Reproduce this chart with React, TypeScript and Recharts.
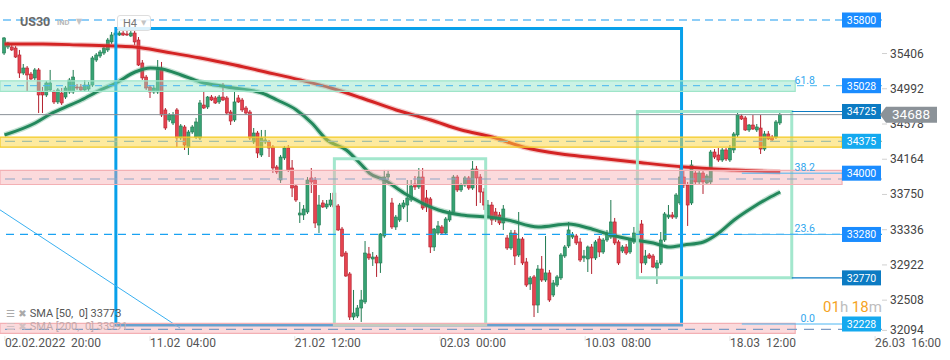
import React from 'react';
import { ComposedChart, Bar, Line, XAxis, YAxis, ReferenceLine, ReferenceArea } from 'recharts';

// ---------- DATA ----------
// H4 candles: [open, high, low, close]
const candles: number[][] = [
  [35412,35600,35389,35589],[35483,35542,35459,35530],[35483,35506,35436,35448],[35471,35494,35354,35365],
  [35389,35448,35119,35177],[35177,35283,35154,35236],[35236,35259,34954,35154],[35165,35189,35095,35107],
  [35119,35236,35095,35213],[35213,35236,34707,34919],[34954,35013,34707,34919],[34919,35083,34895,35060],
  [34978,35213,34954,35060],[34954,34978,34813,34837],[34837,35001,34813,34978],[34942,35001,34801,34825],
  [34895,35025,34872,35001],[34954,35119,34931,35095],[34954,35213,34931,35130],[35013,35048,34978,35001],
  [35013,35048,34954,34978],[34978,35095,34954,35036],[34989,35072,34966,35036],[35036,35377,35013,35354],
  [35330,35412,35307,35389],[35377,35448,35354,35424],[35412,35494,35389,35471],[35448,35589,35424,35565],
  [35542,35659,35518,35624],[35624,35671,35600,35647],[35624,35671,35612,35647],[35647,35683,35612,35624],
  [35636,35671,35612,35624],[35612,35671,35600,35647],[35647,35683,35506,35542],[35565,35600,35259,35271],
  [35295,35330,35095,35119],[35130,35154,34978,35001],[35013,35036,34884,34954],[34954,35036,34931,35001],
  [34954,35330,34931,35236],[35236,35307,34660,34684],[34743,34766,34508,34531],[34625,34707,34602,34684],
  [34590,34719,34566,34684],[34743,34766,34308,34414],[34414,34578,34390,34555],[34543,34566,34273,34331],
  [34308,34508,34214,34484],[34484,34566,34461,34543],[34425,34649,34402,34602],[34414,34860,34390,34825],
  [34801,34954,34754,34766],[34778,34907,34754,34895],[34895,34919,34848,34860],[34884,34907,34813,34825],
  [34837,34919,34813,34895],[34895,35060,34848,34860],[34884,34907,34684,34707],[34719,34743,34566,34613],
  [34625,34954,34602,34837],[34884,34919,34825,34837],[34860,34884,34719,34743],[34766,34790,34684,34707],
  [34719,34743,34390,34414],[34367,34531,34343,34472],[34472,34496,34179,34237],[34214,34508,34190,34414],
  [34367,34508,34343,34390],[34367,34390,34190,34296],[34308,34331,34002,34061],[34073,34096,33990,34014],
  [33920,34214,33885,34190],[34179,34320,34155,34296],[34296,34331,34014,34038],[34061,34155,33720,33826],
  [33850,33873,33662,33685],[33509,33662,33415,33532],[33509,33626,33450,33579],[33544,33955,33521,33920],
  [33944,34061,33767,33897],[33920,33955,33356,33415],[33391,33744,33297,33626],[33650,33685,33591,33603],
  [33603,33685,33579,33638],[33626,33767,33603,33685],[33767,33791,33591,33603],[33615,33638,33321,33333],
  [33344,33368,33015,33027],[33062,33086,32781,32792],[32816,32839,32275,32310],[32310,32628,32275,32357],
  [32322,32451,32299,32416],[32416,32628,32252,32510],[32487,33203,32463,33062],[33051,33133,32980,33004],
  [32992,33074,32910,33015],[33015,33039,32781,32945],[32945,33297,32828,33286],[33262,34038,33239,33955],
  [33955,34038,33920,33990],[33650,33709,33344,33368],[33368,33509,33333,33485],[33450,33650,33427,33626],
  [33603,33685,33579,33650],[33626,33920,33427,33709],[33685,33920,33662,33850],[33873,33967,33803,33838],
  [33838,34061,33814,33955],[33955,34061,33568,33591],[33709,33803,33544,33603],[33697,33720,33062,33133],
  [33133,33356,33086,33344],[33297,33438,33274,33380],[33368,33391,33274,33297],[33297,33485,33274,33462],
  [33450,33568,33427,33544],[33544,33979,33521,33955],[33955,33979,33779,33803],[33803,33885,33779,33861],
  [33861,33967,33838,33944],[33944,33967,33803,33826],[33826,34143,33803,34049],[34049,34085,33615,33944],
  [33955,33990,33650,33779],[33779,33826,33568,33626],[33497,33685,33474,33626],[33626,33662,33391,33450],
  [33544,33591,33427,33462],[33509,33544,33391,33415],[33415,33626,33333,33579],[33239,33274,33098,33121],
  [33121,33333,33098,33297],[33297,33333,32921,33027],[33039,33544,33015,33227],[33227,33250,32921,32945],
  [32957,33004,32663,32686],[32698,32792,32628,32769],[32781,32804,32310,32451],[32451,32921,32357,32874],
  [32874,33027,32722,32745],[32745,33262,32722,32828],[32828,32863,32487,32510],[32569,32745,32545,32710],
  [32686,32804,32663,32781],[32769,33062,32745,33039],[33027,33156,33004,33133],[33145,33427,33121,33333],
  [33250,33309,33227,33274],[33262,33286,33156,33180],[33192,33239,32957,32980],[33004,33098,32957,33027],
  [32992,33150,32839,33133],[33133,33168,32816,33004],[33004,33215,32980,33192],[33227,33262,33015,33074],
  [33074,33239,33051,33215],[33215,33333,33192,33297],[33250,33685,33227,33427],[33427,33474,33156,33180],
  [33192,33215,32921,32945],[33086,33156,33062,33133],[33133,33168,33039,33062],[33074,33239,33051,33215],
  [33192,33368,33168,33297],[33286,33356,33239,33321],[33403,33450,32828,32945],[32945,33098,32921,33027],
  [33039,33062,32992,33004],[33027,33051,32886,32898],[32886,32980,32698,32945],[32945,33309,32921,33215],
  [33215,33544,33192,33521],[33485,33626,33462,33509],[33509,33544,33462,33485],[33485,33767,33462,33744],
  [33650,34073,33626,33955],[33955,34038,33826,33861],[33861,33897,33380,33626],[33650,34155,33626,34096],
  [34002,34038,33873,33897],[33897,34026,33873,34002],[34002,34038,33756,33897],[33885,33990,33861,33967],
  [33897,34273,33873,34249],[34249,34284,34167,34190],[34214,34296,34132,34155],[34155,34296,34132,34273],
  [34273,34296,34143,34167],[34155,34331,34132,34296],[34273,34484,34237,34461],[34449,34707,34425,34684],
  [34672,34696,34625,34637],[34649,34672,34496,34508],[34508,34578,34484,34566],[34566,34684,34508,34519],
  [34508,34578,34484,34543],[34531,34684,34226,34284],[34284,34496,34261,34461],[34461,34496,34390,34402],
  [34425,34449,34378,34390],[34425,34625,34402,34602],[34590,34719,34566,34688],
];

// moving averages: [candle index, value]
const sma50Points: number[][] = [
  [0,34449],[8,34590],[12,34696],[16,34778],[20,34860],[25,34978],[29,35060],[34,35189],[38,35236],
  [41,35225],[46,35154],[51,35072],[58,35013],[67,34942],[71,34860],[76,34743],[80,34590],[84,34390],
  [89,34273],[93,34096],[95,34002],[99,33920],[104,33767],[113,33568],[119,33509],[126,33485],[131,33450],
  [139,33368],[147,33403],[152,33356],[158,33274],[164,33215],[169,33180],[173,33133],[177,33156],
  [182,33192],[186,33297],[190,33450],[195,33603],[199,33709],[202,33779],
];
const sma200Points: number[][] = [
  [0,35518],[10,35518],[20,35506],[29,35494],[34,35483],[42,35424],[51,35354],[60,35271],[68,35189],
  [77,35095],[85,35001],[93,34884],[102,34743],[111,34625],[119,34508],[127,34425],[135,34308],
  [145,34226],[152,34190],[164,34132],[177,34073],[190,34038],[202,34014],
];

const xTickIndex = [0.1, 37.9, 75.6, 113.4, 151.2, 188.9, 226.7];
const xTickLabels = ['02.02.2022  20:00', '11.02  04:00', '21.02  12:00', '02.03  00:00', '10.03  08:00', '18.03  12:00', '26.03  16:00'];
const yTicks = [35406, 34992, 34578, 34164, 33750, 33336, 32922, 32508, 32094];
const lastPrice = 34688;

const priceBoxes = [
  { value: 35800, color: '#1a8cff' },
  { value: 35028, color: '#1a8cff' },
  { value: 34725, color: '#0c7bc3' },
  { value: 34375, color: '#14a9ef' },
  { value: 34000, color: '#1a8cff' },
  { value: 33280, color: '#1a8cff' },
  { value: 32770, color: '#0c7bc3' },
  { value: 32228, color: '#14a9ef' },
];
const fibLevels = [
  { label: '61.8', value: 35028 },
  { label: '38.2', value: 34000 },
  { label: '23.6', value: 33280 },
  { label: '0.0', value: 32228 },
];
const fibSegmentValues = [34000, 33280, 32228];
const zones = [
  { top: 35085, bottom: 34962, end: 205.9, fill: '#8fe3c3', opacity: 0.45, stroke: '#9fe5c9' },
  { top: 34424, bottom: 34306, end: 218.1, fill: '#fcd53f', opacity: 0.5, stroke: '#f4ca26' },
  { top: 34032, bottom: 33867, end: 218.1, fill: '#f5a3a8', opacity: 0.4, stroke: '#f3b0b4' },
  { top: 32236, bottom: 32118, end: 205.9, fill: '#f5a3a8', opacity: 0.4, stroke: '#f3b0b4' },
];
const dashedLevels = [
  { value: 35800, color: '#1d9bf0', dash: '8 5', width: 1.2 },
  { value: 35028, color: '#45b5ef', dash: '7 6', width: 1 },
  { value: 34375, color: '#a6c0a4', dash: '10 7', width: 1.2 },
  { value: 33932, color: '#8ea6c6', dash: '10 7', width: 1.2 },
  { value: 33280, color: '#1aa2f2', dash: '8 6', width: 1.2 },
  { value: 32166, color: '#7d9cc4', dash: '10 7', width: 1.2 },
];
const shortLevels = [
  { value: 34725, from: 205, to: 218.1, color: '#0c7bc3' },
  { value: 32770, from: 205, to: 218.1, color: '#0c7bc3' },
];
const drawnRects = [
  { x1: 29.0, x2: 176.3, top: 35700, bottom: 32216, color: '#08a0ea' },
  { x1: 85.9, x2: 125.3, top: 34169, bottom: 32216, color: '#a3e7cd' },
  { x1: 164.8, x2: 205.0, top: 34725, bottom: 32770, color: '#a3e7cd' },
];
const trendLine = [{ x: -1.17, y: 33569 }, { x: 45.7, y: 32181 }];
const legendItems = [
  { text: 'SMA [50,  0] 33773', faded: false },
  { text: 'SMA [200,  0] 33991', faded: true },
];

// ---------- TABLE ----------
type Row = { i: number; o: number; h: number; l: number; c: number; range: [number, number]; sma50: number | null; sma200: number | null };
const rows: Row[] = candles.map(([o, h, l, c], i) => ({ i, o, h, l, c, range: [l, h] as [number, number], sma50: null, sma200: null }));
sma50Points.forEach(([i, v]) => { rows[i].sma50 = v; });
sma200Points.forEach(([i, v]) => { rows[i].sma200 = v; });

const X_MIN = -1.17;
const X_MAX = 228.5;
const FONT = 'Roboto, "Noto Sans", "DejaVu Sans", sans-serif';

function Candle(props: any) {
  const { x, y, width, height, payload } = props;
  if (!payload || !isFinite(y) || !isFinite(height)) return null;
  const { o, h, l, c } = payload;
  const up = c >= o;
  const k = height / (h - l);
  const cx = x + width / 2;
  const top = y + (h - Math.max(o, c)) * k;
  const bot = y + (h - Math.min(o, c)) * k;
  const fill = up ? '#36a273' : '#e5434f';
  const edge = up ? '#1f7a50' : '#b3202e';
  return (
    <g>
      <line x1={cx} x2={cx} y1={y} y2={y + height} stroke={edge} strokeWidth={1} />
      <rect x={cx - 1.5} y={top} width={3} height={Math.max(1, bot - top)} fill={fill} stroke={edge} strokeWidth={0.6} />
    </g>
  );
}

function XTick(props: any) {
  const { x, y, payload } = props;
  const idx = xTickIndex.indexOf(payload.value);
  return (
    <g>
      <line x1={x} x2={x} y1={y - 8} y2={y - 3} stroke="#e2e2e2" />
      <text x={x} y={y + 3} textAnchor="start" fill="#555" fontSize={12} fontFamily={FONT} style={{ whiteSpace: 'pre' }}>
        {xTickLabels[idx]}
      </text>
    </g>
  );
}

function YTick(props: any) {
  const { x, y, payload } = props;
  // the lowest label is kept inside the plot area, as in the original
  const lift = payload.value === yTicks[yTicks.length - 1] ? -5 : 0;
  return (
    <g>
      <line x1={x - 8} x2={x - 3} y1={y + lift} y2={y + lift} stroke="#d0d0d0" />
      <text x={x} y={y + 4 + lift} textAnchor="start" fill="#444" fontSize={12} fontFamily={FONT}>{payload.value}</text>
    </g>
  );
}

function PriceBox(props: any) {
  const { viewBox, text, color } = props;
  if (!viewBox) return null;
  const right = viewBox.x + viewBox.width;
  const y = viewBox.y;
  return (
    <g>
      <rect x={right - 40} y={y - 7.5} width={39} height={15} fill={color} />
      <text x={right - 20.5} y={y + 3.8} textAnchor="middle" fill="#fff" fontSize={10.5} fontFamily={FONT}>{text}</text>
    </g>
  );
}

function LastBox(props: any) {
  const { viewBox, text } = props;
  if (!viewBox) return null;
  const x0 = viewBox.x + viewBox.width - 2;
  const y = viewBox.y;
  const d = `M${x0},${y} L${x0 + 6},${y - 8} L${x0 + 57},${y - 8} L${x0 + 57},${y + 8} L${x0 + 6},${y + 8} Z`;
  return (
    <g>
      <path d={d} fill="#8b9298" />
      <text x={x0 + 31} y={y + 4.8} textAnchor="middle" fill="#fff" fontSize={13.5} fontFamily={FONT}>{text}</text>
    </g>
  );
}

function FibText(props: any) {
  const { viewBox, text } = props;
  if (!viewBox) return null;
  const right = viewBox.x + viewBox.width;
  return (
    <text x={right - 67} y={viewBox.y - 2} textAnchor="end" fill="#2fa6ee" fontSize={10.5} fontFamily={FONT}>{text}</text>
  );
}

export default function App() {
  return (
    <div style={{ position: 'absolute', left: 0, top: 0, width: 950, height: 360, background: '#fff', fontFamily: FONT, overflow: 'hidden' }}>
      <ComposedChart width={950} height={360} data={rows} margin={{ top: 0, right: 0, bottom: 0, left: 0 }}>
        <XAxis type="number" dataKey="i" domain={[X_MIN, X_MAX]} ticks={xTickIndex} interval={0}
          axisLine={false} tickLine={false} tick={<XTick />} height={24} allowDataOverflow />
        <YAxis orientation="right" type="number" domain={[32087, 36035]} ticks={yTicks} interval={0}
          axisLine={false} tickLine={false} tick={<YTick />} width={68} allowDataOverflow />

        <Bar dataKey="range" barSize={3} shape={(p: any) => <Candle {...p} />} isAnimationActive={false} />
        <Line type="monotone" dataKey="sma200" stroke="#e06666" strokeOpacity={0.35} strokeWidth={5.5} dot={false} activeDot={false} connectNulls isAnimationActive={false} />
        <Line type="monotone" dataKey="sma200" stroke="#d42424" strokeWidth={3} dot={false} activeDot={false} connectNulls isAnimationActive={false} />
        <Line type="monotone" dataKey="sma50" stroke="#4aa57c" strokeOpacity={0.35} strokeWidth={5.5} dot={false} activeDot={false} connectNulls isAnimationActive={false} />
        <Line type="monotone" dataKey="sma50" stroke="#23885c" strokeWidth={3} dot={false} activeDot={false} connectNulls isAnimationActive={false} />

        {drawnRects.map((r, k) => (
          <ReferenceArea key={'r' + k} x1={r.x1} x2={r.x2} y1={r.top} y2={r.bottom} fill="none" fillOpacity={0}
            stroke={r.color} strokeWidth={3} ifOverflow="visible" zIndex={450} />
        ))}
        <ReferenceLine segment={trendLine} stroke="#3ab0f0" strokeWidth={1} ifOverflow="hidden" zIndex={450} />

        {zones.map((z, k) => (
          <ReferenceArea key={'z' + k} x1={X_MIN} x2={z.end} y1={z.top} y2={z.bottom} fill={z.fill} fillOpacity={z.opacity}
            stroke={z.stroke} strokeWidth={1.2} ifOverflow="visible" zIndex={460} />
        ))}

        {dashedLevels.map((d, k) => (
          <ReferenceLine key={'d' + k} y={d.value} stroke={d.color} strokeDasharray={d.dash} strokeWidth={d.width} zIndex={470} />
        ))}
        <ReferenceLine y={lastPrice} stroke="#8a9197" strokeWidth={1} zIndex={470} />
        {fibSegmentValues.map((v, k) => (
          <ReferenceLine key={'f' + k} segment={[{ x: 192, y: v }, { x: 218.1, y: v }]} stroke="#4db6f2" strokeWidth={1} zIndex={470} />
        ))}
        {shortLevels.map((s, k) => (
          <ReferenceLine key={'s' + k} segment={[{ x: s.from, y: s.value }, { x: s.to, y: s.value }]} stroke={s.color} strokeWidth={1.2} zIndex={470} />
        ))}

        {fibLevels.map((f, k) => (
          <ReferenceLine key={'ft' + k} y={f.value} stroke="none" strokeOpacity={0} zIndex={2100}
            label={<FibText text={f.label} />} />
        ))}
        {priceBoxes.map((b, k) => (
          <ReferenceLine key={'b' + k} y={b.value} stroke="none" strokeOpacity={0} zIndex={2100}
            label={<PriceBox text={String(b.value)} color={b.color} />} />
        ))}
        <ReferenceLine y={lastPrice} stroke="none" strokeOpacity={0} zIndex={2200} label={<LastBox text={String(lastPrice)} />} />
      </ComposedChart>

      {/* instrument header */}
      <div style={{ position: 'absolute', left: 20, top: 14, fontSize: 12.5, fontWeight: 700, color: '#6a6a6a', lineHeight: '16px' }}>US30</div>
      <div style={{ position: 'absolute', left: 57, top: 18, fontSize: 7.5, fontWeight: 700, color: '#b8b8b8', lineHeight: '10px' }}>IND</div>
      <div style={{ position: 'absolute', left: 76, top: 17, fontSize: 8, color: '#c4c4c4', lineHeight: '10px' }}>▼</div>
      <div style={{ position: 'absolute', left: 117, top: 15, width: 34, height: 16, border: '1px solid #dedede', borderRadius: 3, background: 'rgba(255,255,255,0.85)', boxSizing: 'border-box' }}>
        <span style={{ position: 'absolute', left: 5, top: 1, fontSize: 11, color: '#777', lineHeight: '13px' }}>H4</span>
        <span style={{ position: 'absolute', left: 23, top: 2, fontSize: 7, color: '#c4c4c4', lineHeight: '10px' }}>▼</span>
      </div>

      {/* indicator legend */}
      {legendItems.map((it, k) => (
        <div key={k} style={{ position: 'absolute', left: 6, top: 307 + k * 13, fontSize: 11, lineHeight: '14px', whiteSpace: 'pre', color: it.faded ? '#c2a9ab' : '#555' }}>
          <span style={{ color: it.faded ? '#d2c0c2' : '#aaa', fontFamily: '"DejaVu Sans"', fontSize: 10 }}>☰ ✖ </span>
          {it.text}
        </div>
      ))}

      {/* candle countdown */}
      <div style={{ position: 'absolute', left: 823, top: 299, fontSize: 15, lineHeight: '16px', whiteSpace: 'pre' }}>
        <span style={{ color: '#f5a31f' }}>01</span>
        <span style={{ color: '#bdbdbd' }}>h </span>
        <span style={{ color: '#f5a31f' }}>18</span>
        <span style={{ color: '#bdbdbd' }}>m</span>
      </div>
    </div>
  );
}
